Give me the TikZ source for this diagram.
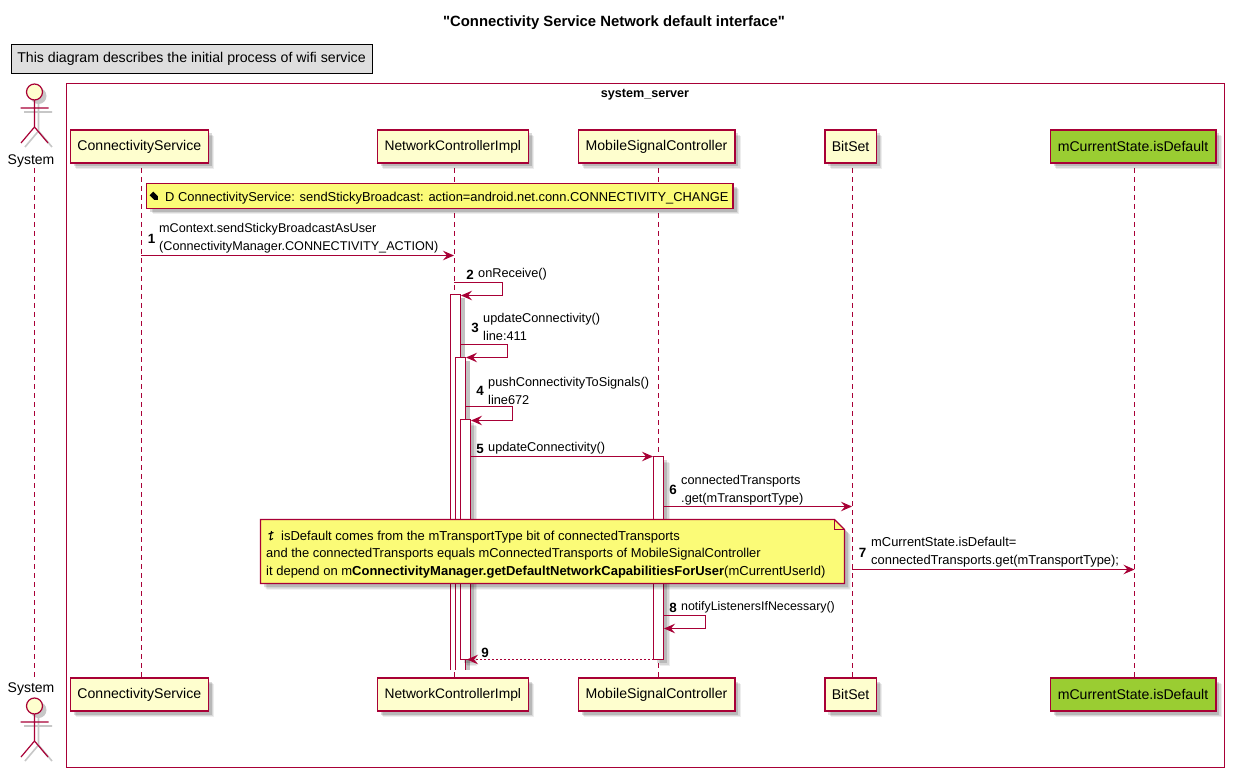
\documentclass[tikz,border=0pt]{standalone}
\usepackage{fontspec}
\setmainfont{Liberation Sans}
\newfontfamily\plainfam{Liberation Sans}
\usetikzlibrary{arrows.meta,shadows}
\definecolor{pu}{HTML}{A80036}
\definecolor{pfill}{HTML}{FEFECE}
\definecolor{nfill}{HTML}{FBFB77}
\definecolor{gfill}{HTML}{9ACD32}
\newcommand{\lowered}[1]{\raisebox{-1.8pt}{#1}}
\tikzset{
  x=1pt,y=-1pt,
  softshadow/.style={
    drop shadow={shadow xshift=6pt,shadow yshift=-6pt,fill=black,opacity=.07},
    drop shadow={shadow xshift=5pt,shadow yshift=-5pt,fill=black,opacity=.09},
    drop shadow={shadow xshift=3.5pt,shadow yshift=-3.5pt,fill=black,opacity=.14}},
  part/.style={draw=pu,line width=1.5pt,fill=pfill,minimum height=33pt,inner sep=0pt,softshadow,font=\fontsize{14.1}{16}\selectfont},
  lifeline/.style={draw=pu,line width=1pt,dash pattern=on 5pt off 4pt},
  msg/.style={draw=pu,line width=1.05pt,-{Stealth[length=11pt,width=9.5pt,inset=4pt,fill=pu]}},
  ret/.style={msg,dash pattern=on 2pt off 2pt},
  lbl/.style={anchor=west,inner sep=0pt,align=left,font=\fontsize{12.75}{18}\selectfont},
  num/.style={anchor=center,inner sep=0pt,font=\fontsize{13.4}{16}\selectfont\bfseries},
  act/.style={draw=pu,line width=1pt,fill=white},
  notebox/.style={draw=pu,line width=1.1pt,fill=nfill},
}
\begin{document}
\begin{tikzpicture}
\useasboundingbox (0,0) rectangle (1235,778);
\fill[white] (0,0) rectangle (1235,778);
\node[inner sep=0pt,font=\fontsize{14.85}{16}\selectfont] (title) at (614,22.5) {\plainfam\bfseries "Connectivity Service Network default interface"};
\node[draw=black,line width=1pt,fill=black!13,minimum width=361pt,minimum height=29pt,inner sep=0pt,font=\fontsize{14.15}{16}\selectfont] (legend) at (191.5,59) {\lowered{This diagram describes the initial process of wifi service}};
\node[draw=pu,line width=1pt,minimum width=1158pt,minimum height=684pt,inner sep=0pt] (frame) at (645.5,425.5) {};
\node[inner sep=0pt,font=\fontsize{12.6}{16}\selectfont\bfseries] (framelabel) at (645,95) {system\_server};

% actors
\foreach \n/\yo in {A/0,B/614}{
  \begin{scope}[yshift=-\yo pt]
  \begin{scope}[shift={(4,4)},draw=black!22,line width=1.6pt]
    \draw (34.5,100) -- (34.5,127) (20,108) -- (48,108) (34.5,127) -- (21,143) (34.5,127) -- (48,143);
    \fill[black!22] (34.5,92) circle (8);
  \end{scope}
  \draw[pu,line width=1.2pt,fill=pfill] (34.5,92) circle (8);
  \draw[pu,line width=1.2pt] (34.5,100) -- (34.5,127) (20.5,108) -- (48.5,108) (34.5,127) -- (21,143) (34.5,127) -- (48,143);
  \end{scope}
}
\node[inner sep=0pt,font=\fontsize{14}{16}\selectfont] (sysT) at (31,161.5) {System};
\node[inner sep=0pt,font=\fontsize{14}{16}\selectfont] (sysB) at (31,689.5) {System};

% lifelines
\coordinate (l0a) at (34.5,168); \coordinate (l0b) at (34.5,678);
\coordinate (l1a) at (141,168); \coordinate (l1b) at (141,678);
\coordinate (l2a) at (454,168); \coordinate (l2b) at (454,678);
\coordinate (l3a) at (658.5,168); \coordinate (l3b) at (658.5,678);
\coordinate (l4a) at (852,168); \coordinate (l4b) at (852,678);
\coordinate (l5a) at (1134.5,168); \coordinate (l5b) at (1134.5,678);
\foreach \i in {0,...,5}{\draw[lifeline] (l\i a) -- (l\i b);}

% participants
\foreach \nm/\cx/\w/\f/\t in {
 cs/139.3/138/pfill/ConnectivityService,
 nc/452.8/151/pfill/{\fontsize{13.8}{16}\selectfont NetworkControllerImpl},
 ms/656.5/156.5/pfill/MobileSignalController,
 bs/850.6/51.5/pfill/BitSet,
 mc/1133/165.5/gfill/mCurrentState.isDefault}{
  \node[part,minimum width=\w pt,fill=\f] (\nm T) at (\cx,146.5) {\lowered{\t}};
  \node[part,minimum width=\w pt,fill=\f] (\nm B) at (\cx,694.5) {\lowered{\t}};
}

% activations
\fill[black!24] (461,298) rectangle (464.5,670);
\draw[act,draw=none] (450.5,294.5) rectangle (460.5,670);
\draw[pu,line width=1pt] (450.5,670) -- (450.5,294.5) -- (460.5,294.5) -- (460.5,670);
\fill[black!24] (466,361) rectangle (469.5,670);
\draw[act,draw=none] (455.5,357.5) rectangle (465.5,670);
\draw[pu,line width=1pt] (455.5,670) -- (455.5,357.5) -- (465.5,357.5) -- (465.5,670);
\draw[act,softshadow] (460.5,419.5) rectangle (470.5,659.5);
\draw[act,softshadow] (653.5,456.5) rectangle (663.5,659.5);

% message coordinates
\coordinate (m1a) at (141,255.5); \coordinate (m1b) at (454,255.5);
\coordinate (m2a) at (454,282.5); \coordinate (m2c) at (502.5,282.5); \coordinate (m2d) at (502.5,295.5); \coordinate (m2b) at (461,295.5);
\coordinate (m3a) at (460.5,344.5); \coordinate (m3c) at (507.5,344.5); \coordinate (m3d) at (507.5,357.5); \coordinate (m3b) at (466,357.5);
\coordinate (m4a) at (465.5,406.5); \coordinate (m4c) at (512.5,406.5); \coordinate (m4d) at (512.5,420.5); \coordinate (m4b) at (471,420.5);
\coordinate (m5a) at (470.5,456.5); \coordinate (m5b) at (653,456.5);
\coordinate (m6a) at (663.5,506.5); \coordinate (m6b) at (852,506.5);
\coordinate (m7a) at (852,569.5); \coordinate (m7b) at (1134.5,569.5);
\coordinate (m8a) at (663.5,615.5); \coordinate (m8c) at (705.5,615.5); \coordinate (m8d) at (705.5,628.5); \coordinate (m8b) at (664,628.5);
\coordinate (m9a) at (653.5,659.5); \coordinate (m9b) at (467,659.5);

\draw[msg] (m1a) -- (m1b);
\draw[msg] (m2a) -- (m2c) -- (m2d) -- (m2b);
\draw[msg] (m3a) -- (m3c) -- (m3d) -- (m3b);
\draw[msg] (m4a) -- (m4c) -- (m4d) -- (m4b);
\draw[msg] (m5a) -- (m5b);
\draw[msg] (m6a) -- (m6b);
\draw[msg] (m7a) -- (m7b);
\draw[msg] (m8a) -- (m8c) -- (m8d) -- (m8b);
\draw[ret] (m9a) -- (m9b);

% labels
\node[num] (n1) at (151.5,238.5) {1};
\node[lbl,font=\fontsize{12.65}{18}\selectfont] (t1) at (159,238) {mContext.sendStickyBroadcastAsUser\\(ConnectivityManager.CONNECTIVITY\_ACTION)};
\node[num] (n2) at (470,274.5) {2};
\node[lbl] (t2) at (478,274.5) {onReceive()};
\node[num] (n3) at (475,327.5) {3};
\node[lbl] (t3) at (483,327) {updateConnectivity()\\line:411};
\node[num] (n4) at (480,391) {4};
\node[lbl] (t4) at (488,390.5) {pushConnectivityToSignals()\\line672};
\node[num] (n5) at (480,448.5) {5};
\node[lbl] (t5) at (488,448.5) {updateConnectivity()};
\node[num] (n6) at (673,489.5) {6};
\node[lbl] (t6) at (681,490) {connectedTransports\\.get(mTransportType)};
\node[num] (n7) at (862.5,552.5) {7};
\node[lbl,font=\fontsize{12.9}{18}\selectfont] (t7) at (871,552) {mCurrentState.isDefault=\\connectedTransports.get(mTransportType);};
\node[num] (n8) at (673,607.5) {8};
\node[lbl,font=\fontsize{12.4}{18}\selectfont] (t8) at (681,607.5) {notifyListenersIfNecessary()};
\node[num] (n9) at (485,652.5) {9};

% note 1
\node[notebox,softshadow,minimum width=586.5pt,minimum height=25pt,inner sep=0pt] (note1) at (439.75,196) {};
\fill[black,shift={(155,197)},rotate=-45] (-5,-2.6) -- (1.5,-2.6) -- (4,0) -- (1.5,2.6) -- (-5,2.6) -- cycle;
\node[lbl,font=\fontsize{12.9}{18}\selectfont] (note1t) at (165,198) {D ConnectivityService: sendStickyBroadcast: action=android.net.conn.CONNECTIVITY\_CHANGE};

% note 2
\draw[notebox,softshadow] (260.5,519.5) -- (834.5,519.5) -- (844.5,529.5) -- (844.5,583.5) -- (260.5,583.5) -- cycle;
\draw[pu,line width=1pt] (834.5,519.5) -- (834.5,529.5) -- (844.5,529.5);
\draw[black,line width=1.1pt] (271.5,531) -- (270,540) (268.5,534) -- (273.5,532.5) (270,540) -- (273,538.5);
\node[lbl,font=\fontsize{13}{17.6}\selectfont] (note2t) at (266,554.5) {\hspace{15pt}isDefault comes from the mTransportType bit of connectedTransports\\{\fontsize{12.9}{17.6}\selectfont and the connectedTransports equals mConnectedTransports of MobileSignalController}\\it depend on m\textbf{ConnectivityManager.getDefaultNetworkCapabilitiesForUser}(mCurrentUserId)};
\end{tikzpicture}
\end{document}
